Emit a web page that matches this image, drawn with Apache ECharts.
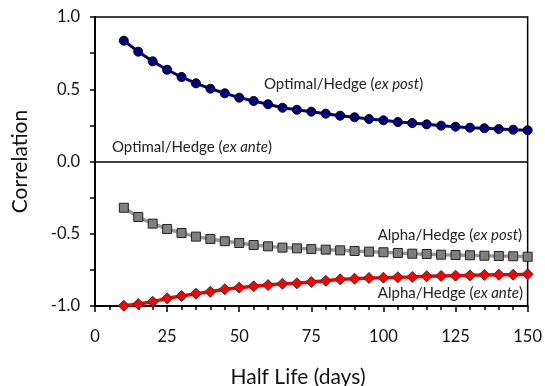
<!DOCTYPE html>
<html><head><meta charset="utf-8">
<script src="https://cdn.jsdelivr.net/npm/echarts@6/dist/echarts.min.js"></script>
<style>html,body{margin:0;padding:0;background:#fff}#c{width:545px;height:386px}</style>
</head><body><div id="c"></div>
<script>
var halfLife = [10,15,20,25,30,35,40,45,50,55,60,65,70,75,80,85,90,95,100,105,110,115,120,125,130,135,140,145,150];
var optimalExPost = [0.836,0.760,0.693,0.635,0.585,0.541,0.504,0.472,0.442,0.419,0.396,0.372,0.358,0.345,0.331,0.317,0.306,0.294,0.285,0.273,0.266,0.257,0.248,0.241,0.234,0.230,0.225,0.220,0.216];
var alphaExPost = [-0.320,-0.384,-0.430,-0.467,-0.495,-0.520,-0.536,-0.552,-0.564,-0.578,-0.587,-0.596,-0.601,-0.606,-0.610,-0.615,-0.619,-0.624,-0.628,-0.633,-0.638,-0.640,-0.645,-0.647,-0.649,-0.652,-0.654,-0.656,-0.659];
var alphaExAnte = [-0.998,-0.986,-0.970,-0.947,-0.931,-0.915,-0.901,-0.884,-0.873,-0.864,-0.855,-0.846,-0.843,-0.834,-0.825,-0.815,-0.811,-0.806,-0.804,-0.801,-0.799,-0.794,-0.792,-0.790,-0.788,-0.785,-0.783,-0.783,-0.781];
var yTicks = ['-1.0','-0.5','0.0','0.5','1.0'];

function pairs(v){ return halfLife.map(function(x,i){return [x,v[i]];}); }
var F = 'Lato, "Open Sans", sans-serif';
var chart = echarts.init(document.getElementById('c'), null, {renderer:'canvas'});
function lab(x,y,main,it,align){
  return {type:'text', x:x, y:y, style:{rich:{a:{fontFamily:F,fontSize:15,fill:'#222'},b:{fontFamily:F,fontSize:15,fontStyle:'italic',fill:'#222'}},
    text:'{a|'+main+' (}{b|'+it+'}{a|)}', align:align, verticalAlign:'middle'}};
}
chart.setOption({
  animation:false,
  grid:{left:95,right:17,top:17,bottom:80,show:true,borderColor:'#000',borderWidth:1.5,backgroundColor:'#fff'},
  xAxis:{type:'value',min:0,max:150,interval:25,
    axisLine:{onZero:false,lineStyle:{color:'#000',width:2}},
    axisTick:{show:true,length:6,lineStyle:{color:'#000',width:1.5}},
    minorTick:{show:true,splitNumber:5,length:4,lineStyle:{color:'#000',width:1.5}},
    axisLabel:{fontFamily:F,fontSize:16.5,color:'#111',margin:22},
    splitLine:{show:false}},
  yAxis:{type:'value',min:-1,max:1,interval:0.5,
    axisLine:{lineStyle:{color:'#000',width:2}},
    axisTick:{show:true,length:5,lineStyle:{color:'#000',width:1.5}},
    minorTick:{show:true,splitNumber:2,length:5,lineStyle:{color:'#000',width:1.5}},
    axisLabel:{fontFamily:F,fontSize:16.5,color:'#111',margin:15,formatter:function(v){var i=Math.round((v+1)/0.5);return yTicks[i];}},
    splitLine:{show:false}},
  series:[
    {type:'line',data:pairs(optimalExPost),symbol:'circle',symbolSize:9,
      lineStyle:{color:'#000080',width:3},itemStyle:{color:'#000080',borderColor:'#000',borderWidth:1},
      markLine:{silent:true,symbol:'none',label:{show:false},lineStyle:{color:'#000',width:1.5,type:'solid'},data:[{yAxis:0}]}},
    {type:'line',data:pairs(alphaExPost),symbol:'rect',symbolSize:9,
      lineStyle:{color:'#999999',width:3.5},itemStyle:{color:'#808080',borderColor:'#222',borderWidth:1}},
    {type:'line',data:pairs(alphaExAnte),symbol:'diamond',symbolSize:11,
      lineStyle:{color:'#ff0000',width:3.5},itemStyle:{color:'#ff0000',borderColor:'#333',borderWidth:1}}
  ],
  graphic:[
    lab(264,84,'Optimal/Hedge','ex post','left'),
    lab(112,147,'Optimal/Hedge','ex ante','left'),
    lab(522,235,'Alpha/Hedge','ex post','right'),
    lab(523,293,'Alpha/Hedge','ex ante','right'),
    {type:'text',x:298,y:377,style:{text:'Half Life (days)',fontFamily:F,fontSize:21,fill:'#111',align:'center',verticalAlign:'middle'}},
    {type:'text',x:20,y:161.5,rotation:Math.PI/2,style:{text:'Correlation',fontFamily:F,fontSize:21,fill:'#111',align:'center',verticalAlign:'middle'}}
  ]
});
</script></body></html>
